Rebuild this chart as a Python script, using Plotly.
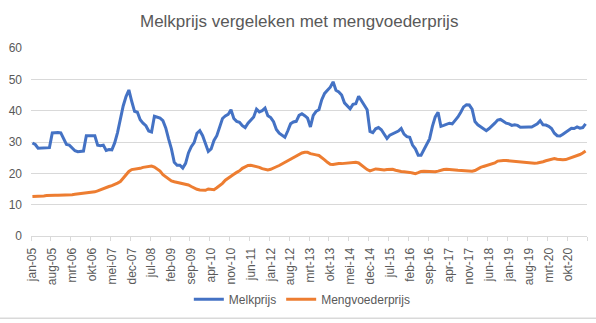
import plotly.graph_objects as go

month_names = ["jan", "feb", "mrt", "apr", "mei", "jun", "jul", "aug", "sep", "okt", "nov", "dec"]
categories = [f"{m}-{y:02d}" for y in range(5, 22) for m in month_names][:196]

tick_labels = ["jan-05", "aug-05", "mrt-06", "okt-06", "mei-07", "dec-07", "jul-08", "feb-09",
               "sep-09", "apr-10", "nov-10", "jun-11", "jan-12", "aug-12", "mrt-13", "okt-13",
               "mei-14", "dec-14", "jul-15", "feb-16", "sep-16", "apr-17", "nov-17", "jun-18",
               "jan-19", "aug-19", "mrt-20", "okt-20"]

melkprijs = [
    29.7, 29.2, 28.0, 28.0, 28.0, 28.0, 28.2, 32.9, 33.0, 33.0,
    32.9, 31.0, 29.2, 29.0, 28.0, 27.2, 26.9, 27.0, 27.1, 32.0,
    32.1, 32.0, 32.0, 29.0, 28.8, 29.0, 27.3, 27.6, 27.5, 29.7,
    33.0, 37.6, 41.5, 44.5, 46.6, 43.0, 39.8, 39.5, 37.1, 36.0,
    35.2, 33.5, 33.2, 38.2, 38.0, 37.6, 36.8, 34.5, 31.0, 27.8,
    23.5, 22.6, 22.6, 21.7, 23.2, 26.5, 28.5, 29.8, 32.8, 33.6,
    32.0, 29.5, 27.0, 27.8, 30.5, 32.0, 34.5, 37.5, 38.3, 38.8,
    40.3, 37.5, 36.6, 36.3, 35.2, 34.6, 36.0, 37.0, 38.0, 40.5,
    39.6, 40.0, 40.8, 38.4, 37.8, 36.5, 34.0, 32.8, 32.0, 31.5,
    33.5, 35.8, 36.4, 36.6, 38.5, 39.0, 38.4, 37.6, 34.8, 38.5,
    39.8, 40.3, 43.5, 45.5, 46.5, 47.5, 49.2, 46.5, 46.0, 45.0,
    42.5, 41.5, 40.6, 42.0, 42.2, 44.6, 43.2, 42.0, 40.3, 33.4,
    33.0, 34.2, 34.6, 33.9, 32.5, 31.1, 32.2, 32.7, 33.0, 33.5,
    34.3, 32.5, 31.7, 31.5, 29.0, 27.8, 25.8, 25.8, 27.5, 29.5,
    31.0, 35.0, 38.0, 39.5, 35.0, 35.3, 35.6, 36.0, 35.8, 36.8,
    38.0, 39.5, 41.2, 41.9, 41.8, 40.5, 36.5, 35.5, 34.8, 34.0,
    33.6, 34.3, 35.0, 36.0, 37.0, 37.2, 36.6, 36.0, 35.8, 35.3,
    35.5, 35.3, 34.7, 34.8, 34.7, 34.8, 34.8, 35.2, 35.8, 36.8,
    35.5, 35.4, 35.0, 34.3, 32.8, 32.0, 31.9, 32.5, 33.2, 33.7,
    34.4, 34.3, 34.8, 34.4, 34.6, 35.8,
]

mengvoederprijs = [
    12.6, 12.6, 12.6, 12.7, 12.8, 12.9, 13.0, 13.0, 13.0, 13.0,
    13.0, 13.1, 13.1, 13.1, 13.2, 13.3, 13.4, 13.5, 13.6, 13.7,
    13.8, 13.9, 14.1, 14.4, 14.8, 15.1, 15.5, 15.8, 16.1, 16.4,
    16.9, 17.4, 18.5, 19.6, 20.6, 21.2, 21.3, 21.5, 21.6, 21.9,
    22.1, 22.3, 22.3, 22.0, 21.4, 20.7, 19.6, 18.9, 18.2, 17.6,
    17.3, 17.1, 16.9, 16.8, 16.6, 16.3, 15.8, 15.3, 14.9, 14.7,
    14.6, 14.6, 15.0, 14.8, 14.8, 15.4, 16.0, 16.8, 17.8, 18.5,
    19.2, 19.7, 20.3, 20.8, 21.6, 22.1, 22.5, 22.6, 22.4, 22.2,
    21.9, 21.5, 21.2, 21.1, 21.3, 21.6, 22.1, 22.5, 23.0, 23.5,
    24.0, 24.6, 25.2, 25.7, 26.2, 26.5, 26.7, 26.7, 26.3, 26.0,
    25.9, 25.7, 25.1, 24.3, 23.5, 22.9, 22.8, 23.0, 23.1, 23.1,
    23.2, 23.4, 23.5, 23.6, 23.5, 23.3, 22.6, 21.9, 21.2, 20.8,
    21.1, 21.4, 21.3, 21.1, 21.1, 21.2, 21.2, 21.3, 21.0, 20.7,
    20.6, 20.5, 20.5, 20.3, 20.1, 19.9, 20.2, 20.6, 20.7, 20.6,
    20.5, 20.5, 20.5, 20.7, 21.0, 21.2, 21.3, 21.3, 21.2, 21.1,
    21.0, 20.9, 20.8, 20.7, 20.7, 20.7, 20.9, 21.5, 21.9, 22.2,
    22.5, 22.8, 23.0, 23.3, 23.9, 24.1, 24.1, 24.1, 24.0, 23.9,
    23.7, 23.6, 23.5, 23.4, 23.3, 23.2, 23.2, 23.2, 23.3, 23.4,
    23.7, 24.0, 24.2, 24.5, 24.7, 24.5, 24.3, 24.3, 24.4, 24.7,
    25.0, 25.4, 25.7, 26.0, 26.5, 27.1,
]

x_idx = list(range(len(categories)))
tick_pos = [categories.index(t) for t in tick_labels]

FONT = "Liberation Sans"
GREY = "#595959"
GRID = "#D9D9D9"

fig = go.Figure()
fig.add_trace(go.Scatter(x=x_idx, y=melkprijs, name="Melkprijs", mode="lines",
                         line=dict(color="#4472C4", width=3), text=categories,
                         hovertemplate="%{text}: %{y}<extra>Melkprijs</extra>"))
fig.add_trace(go.Scatter(x=x_idx, y=mengvoederprijs, name="Mengvoederprijs", mode="lines",
                         line=dict(color="#ED7D31", width=3), text=categories,
                         hovertemplate="%{text}: %{y}<extra>Mengvoederprijs</extra>"))

fig.update_layout(
    width=596, height=323,
    margin=dict(l=27, r=9, t=48, b=87),
    paper_bgcolor="white", plot_bgcolor="white",
    font=dict(family=FONT, color=GREY, size=11),
    title=dict(text="Melkprijs vergeleken met mengvoederprijs", x=0.502, xanchor="center",
               y=0.935, yanchor="middle", font=dict(family=FONT, size=17, color=GREY)),
    showlegend=True,
    legend=dict(orientation="h", x=0.488, xanchor="center", y=-0.337, yanchor="middle",
                font=dict(family=FONT, size=12, color=GREY), itemwidth=30,
                bgcolor="rgba(0,0,0,0)"),
    shapes=[dict(type="line", xref="paper", yref="paper", x0=-0.06, x1=1.02,
                 y0=-0.437, y1=-0.437, line=dict(color=GRID, width=1.5))],
)

fig.update_xaxes(
    range=[-0.5, len(categories) - 0.5], tickmode="array", tickvals=tick_pos,
    ticktext=tick_labels, tickangle=-90, ticks="", showgrid=False, zeroline=False,
    showline=True, linecolor=GRID, linewidth=1, ticklabelstandoff=6,
    tickfont=dict(family=FONT, size=12, color=GREY),
    minor=dict(ticks="outside", tick0=-0.5, dtick=7, ticklen=4, tickcolor=GRID, showgrid=False),
)
fig.update_yaxes(
    range=[0, 60], tickmode="array", tickvals=[0, 10, 20, 30, 40, 50, 60],
    showgrid=True, gridcolor=GRID, gridwidth=1, zeroline=False, showline=False,
    ticks="", ticklabelstandoff=8, tickfont=dict(family=FONT, size=12, color=GREY),
)

fig.write_html("out.html")
